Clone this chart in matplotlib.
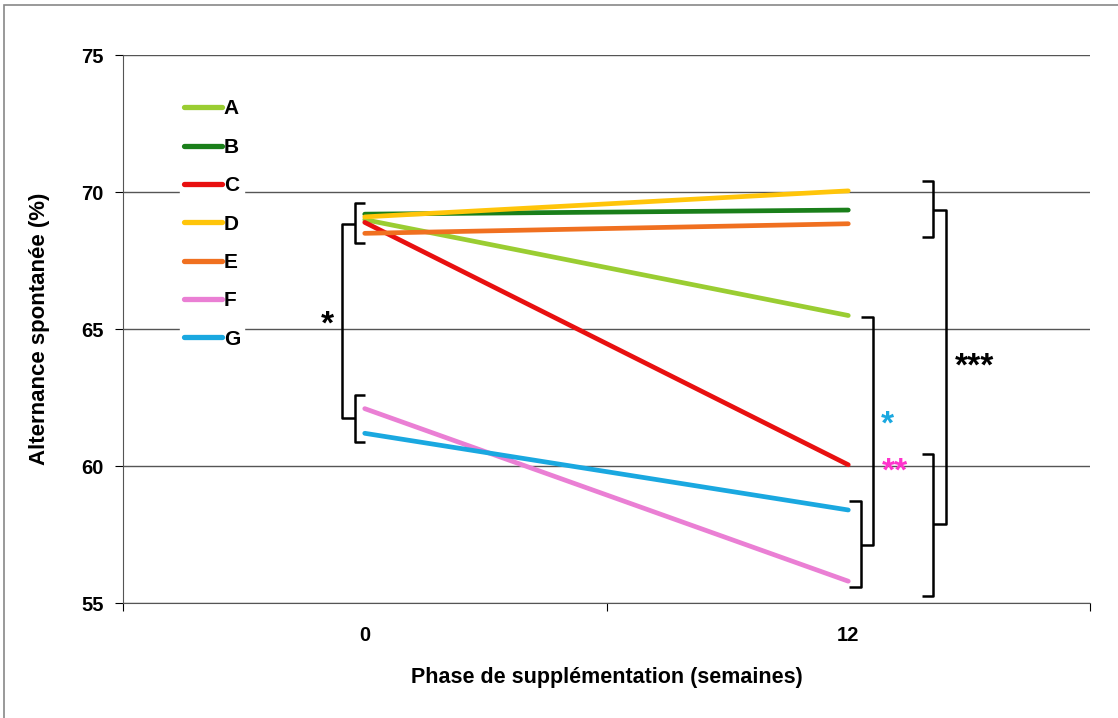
import matplotlib
matplotlib.use("Agg")
import matplotlib.pyplot as plt
from matplotlib.patches import Rectangle

plt.rcParams['font.family'] = ['Liberation Sans', 'DejaVu Sans']

groups = ['A', 'B', 'C', 'D', 'E', 'F', 'G']
weeks = ['0', '12']
values = {
    'A': [69.0, 65.5],
    'B': [69.2, 69.35],
    'C': [68.9, 60.05],
    'D': [69.1, 70.05],
    'E': [68.5, 68.85],
    'F': [62.1, 55.8],
    'G': [61.2, 58.4],
}
colors = {
    'A': '#9ACD32',
    'B': '#1A7F1A',
    'C': '#E81010',
    'D': '#FFC50A',
    'E': '#F07020',
    'F': '#EA7FD4',
    'G': '#1AA8E0',
}

fig = plt.figure(figsize=(11.18, 7.18), dpi=100)
fig.patches.append(Rectangle((0.004, -0.01), 1.0, 1.003, transform=fig.transFigure,
                             fill=False, edgecolor='#888888', linewidth=1.2))
ax = fig.add_axes([0.110, 0.160, 0.865, 0.763])

xs = list(range(len(weeks)))
for g in groups:
    ax.plot(xs, values[g], color=colors[g], lw=3.4, solid_capstyle='round', label=g, zorder=3)

ax.set_xlim(-0.5, 1.5)
ax.set_ylim(55, 75)
ax.set_yticks([55, 60, 65, 70, 75])
ax.set_xticks(xs)
ax.set_xticklabels(weeks)
ax.set_xticks([-0.5, 0.5, 1.5], minor=True)
ax.tick_params(axis='x', which='major', length=0, pad=16.5)
ax.tick_params(axis='x', which='minor', length=6, width=0.8, direction='out')
ax.tick_params(axis='y', length=6, width=0.8, direction='out', pad=8)
for lab in ax.get_xticklabels() + ax.get_yticklabels():
    lab.set_fontweight('bold')
    lab.set_fontsize(14.5)
ax.yaxis.grid(True, color='#555555', lw=1.0, zorder=0)
ax.set_axisbelow(True)
for s in ['top', 'right']:
    ax.spines[s].set_visible(False)
ax.spines['left'].set_color('#555555')
ax.spines['bottom'].set_color('#555555')

ax.set_ylabel('Alternance spontanée (%)', fontsize=16, fontweight='bold', labelpad=22)
ax.set_xlabel('Phase de supplémentation (semaines)', fontsize=15.5, fontweight='bold', labelpad=16)

leg = ax.legend(loc='upper left', bbox_to_anchor=(0.048, 0.946), frameon=True, handlelength=1.83,
                handletextpad=0.08, labelspacing=0.93, borderpad=0.2, fontsize=15)
leg.get_frame().set_edgecolor('white')
leg.get_frame().set_facecolor('white')
leg.get_frame().set_alpha(1)
leg.set_zorder(5)
for t in leg.get_texts():
    t.set_fontweight('bold')
for h in leg.get_lines():
    h.set_linewidth(3.8)

bk = dict(color='black', lw=1.8, zorder=4, clip_on=False, solid_capstyle='butt')

def bracket_left(x, y0, y1, w):
    ax.plot([x + w, x, x, x + w], [y0, y0, y1, y1], **bk)

def bracket_right(x, y0, y1, w):
    ax.plot([x - w, x, x, x - w], [y0, y0, y1, y1], **bk)

# left brackets
bracket_left(-0.021, 69.6, 68.14, 0.022)
bracket_left(-0.021, 62.6, 60.88, 0.022)
bracket_left(-0.048, 68.83, 61.75, 0.027)
ax.text(-0.078, 65.15, '*', fontsize=24, fontweight='bold', ha='center', va='center', color='black')

# right brackets
bracket_right(1.175, 70.4, 68.36, 0.023)
bracket_right(1.175, 60.44, 55.26, 0.023)
bracket_right(1.202, 69.34, 57.88, 0.027)
bracket_right(1.026, 58.72, 55.58, 0.025)
bracket_right(1.051, 65.44, 57.12, 0.025)
ax.text(1.081, 61.5, '*', fontsize=24, fontweight='bold', ha='center', va='center', color='#1AA8E0')
ax.text(1.096, 59.8, '**', fontsize=24, fontweight='bold', ha='center', va='center', color='#FF33CC')
ax.text(1.262, 63.6, '***', fontsize=24, fontweight='bold', ha='center', va='center', color='black')

fig.savefig('out.png', dpi=100)
